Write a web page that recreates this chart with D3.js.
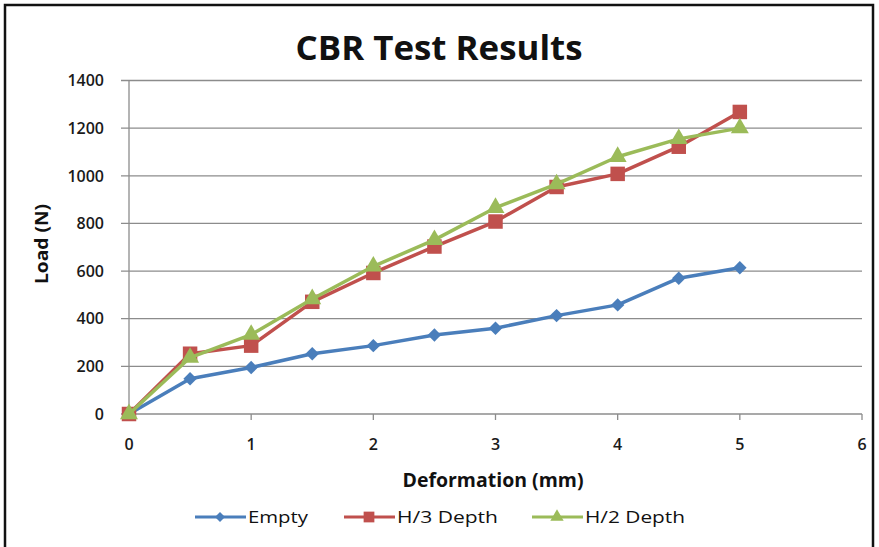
<!DOCTYPE html>
<html>
<head>
<meta charset="utf-8">
<script src="https://cdn.jsdelivr.net/npm/d3@7/dist/d3.min.js"></script>
<style>
  html, body { margin: 0; padding: 0; background: #fff; }
  text { font-family: "Open Sans", Lato, "Liberation Sans", sans-serif; }
</style>
</head>
<body>
<svg id="chart" width="879" height="547"></svg>
<script>
// Deformation steps (mm)
const deformation = [0, 0.5, 1, 1.5, 2, 2.5, 3, 3.5, 4, 4.5, 5];
// Load readings (N) for each specimen
const emptyLoad = [0, 148, 195, 253, 287, 332, 360, 413, 458, 570, 614];
const h3Load    = [0, 253, 287, 471, 592, 703, 808, 953, 1008, 1122, 1268];
const h2Load    = [0, 237, 333, 483, 620, 731, 866, 965, 1080, 1155, 1200];
const seriesNames = ["Empty", "H/3 Depth", "H/2 Depth"];
const seriesColors = ["#4a7ebb", "#c0504d", "#9bbb59"];
const seriesMarkers = ["diamond", "square", "triangle"];
const xTicks = [0, 1, 2, 3, 4, 5, 6];
const yTicks = [0, 200, 400, 600, 800, 1000, 1200, 1400];

const svg = d3.select("#chart");

// Outer frame
svg.append("rect").attr("x", 5).attr("y", 5).attr("width", 868).attr("height", 560)
  .attr("fill", "#fff").attr("stroke", "#111").attr("stroke-width", 2.5);

const x = d3.scaleLinear().domain([0, 6]).range([129, 862]);
const y = d3.scaleLinear().domain([0, 1400]).range([414, 80.5]);

// Horizontal gridlines (extend left as tick marks)
svg.append("g").selectAll("line").data(yTicks).join("line")
  .attr("x1", x(0) - 8).attr("x2", x(6))
  .attr("y1", d => y(d)).attr("y2", d => y(d))
  .attr("stroke", "#8c8c8c").attr("stroke-width", 1.3);

// Vertical axis line
svg.append("line").attr("x1", x(0)).attr("x2", x(0)).attr("y1", y(1400)).attr("y2", y(0))
  .attr("stroke", "#8c8c8c").attr("stroke-width", 1.3);

// X axis ticks
svg.append("g").selectAll("line").data(xTicks).join("line")
  .attr("x1", d => x(d)).attr("x2", d => x(d))
  .attr("y1", y(0)).attr("y2", y(0) + 6)
  .attr("stroke", "#8c8c8c").attr("stroke-width", 1.3);

// Tick labels
svg.append("g").selectAll("text").data(yTicks).join("text")
  .attr("x", 104).attr("y", d => y(d)).attr("dy", "0.36em")
  .attr("text-anchor", "end").attr("font-size", 16).attr("font-weight", 600).attr("fill", "#1a1a1a")
  .text(d => d);
svg.append("g").selectAll("text").data(xTicks).join("text")
  .attr("x", d => x(d)).attr("y", 450)
  .attr("text-anchor", "middle").attr("font-size", 16).attr("font-weight", 600).attr("fill", "#1a1a1a")
  .text(d => d);

// Title and axis titles
svg.append("text").attr("x", 439).attr("y", 60).attr("text-anchor", "middle")
  .attr("font-size", 34).attr("font-weight", "bold").attr("fill", "#111")
  .attr("textLength", 287).attr("lengthAdjust", "spacingAndGlyphs")
  .text("CBR Test Results");
svg.append("text").attr("transform", "translate(48,244) rotate(-90)")
  .attr("text-anchor", "middle").attr("font-size", 17).attr("font-weight", "bold").attr("fill", "#111")
  .attr("textLength", 80).attr("lengthAdjust", "spacingAndGlyphs")
  .text("Load (N)");
svg.append("text").attr("x", 493).attr("y", 487).attr("text-anchor", "middle")
  .attr("font-size", 19).attr("font-weight", "bold").attr("fill", "#111")
  .attr("textLength", 181).attr("lengthAdjust", "spacingAndGlyphs")
  .text("Deformation (mm)");

function markerPath(kind, scale) {
  const s = scale || 1;
  if (kind === "diamond") return d3.symbol(d3.symbolDiamond2, 115 * s)();
  if (kind === "square") return d3.symbol(d3.symbolSquare, 210 * s)();
  return d3.symbol(d3.symbolTriangle, 140 * s)();
}

const allLoads = [emptyLoad, h3Load, h2Load];
const line = d3.line().x(d => x(d[0])).y(d => y(d[1]));

allLoads.forEach((loads, i) => {
  const pts = deformation.map((d, j) => [d, loads[j]]);
  const g = svg.append("g");
  g.append("path").attr("d", line(pts)).attr("fill", "none")
    .attr("stroke", seriesColors[i]).attr("stroke-width", 3.5).attr("stroke-linejoin", "round");
  g.selectAll("path.m").data(pts).join("path").attr("class", "m")
    .attr("d", markerPath(seriesMarkers[i]))
    .attr("transform", d => `translate(${x(d[0])},${y(d[1])})`)
    .attr("fill", seriesColors[i]);
});

// Legend
const legendX = [195, 344, 532];
const legendTextW = [60, 101, 100];
seriesNames.forEach((name, i) => {
  const lg = svg.append("g").attr("transform", `translate(${legendX[i]},517)`);
  lg.append("line").attr("x1", 0).attr("x2", 51).attr("stroke", seriesColors[i]).attr("stroke-width", 3);
  lg.append("path").attr("d", markerPath(seriesMarkers[i], 0.55))
    .attr("transform", "translate(25,0)")
    .attr("fill", seriesColors[i]);
  lg.append("text").attr("x", 53).attr("dy", "0.35em").attr("font-size", 16).attr("fill", "#111")
    .attr("textLength", legendTextW[i]).attr("lengthAdjust", "spacingAndGlyphs")
    .text(name);
});
</script>
</body>
</html>
